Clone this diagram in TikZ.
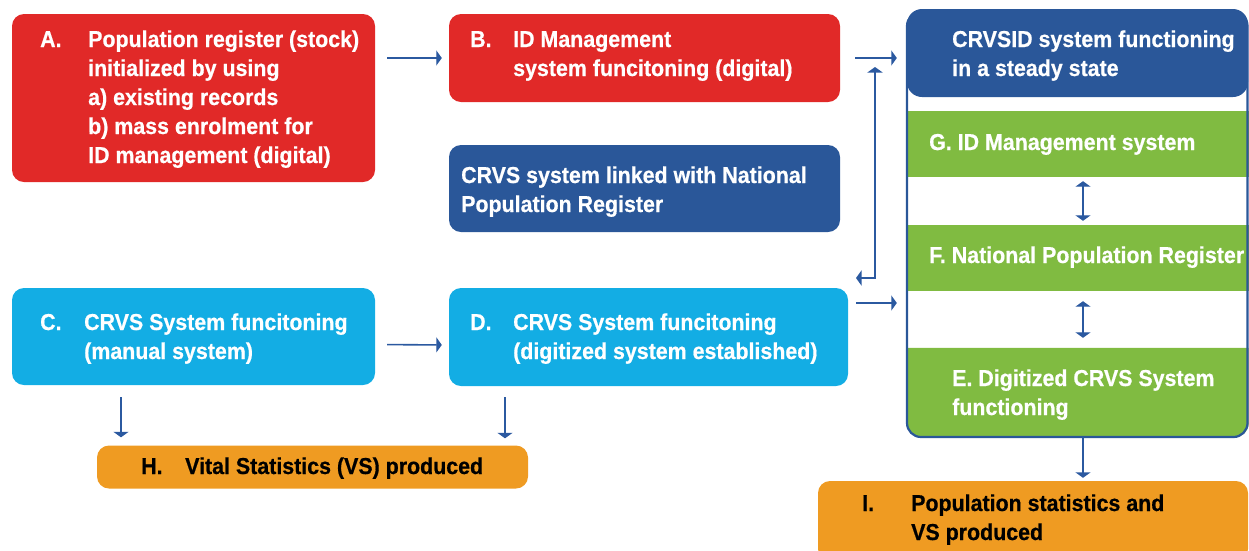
\documentclass[tikz,border=0pt]{standalone}
\usepackage{fontspec}
\setmainfont[FakeStretch=0.93,BoldFeatures={FakeBold=0.6}]{Liberation Sans}
\usetikzlibrary{arrows.meta}
\definecolor{cred}{HTML}{E12928}
\definecolor{cdblue}{HTML}{2A5799}
\definecolor{clblue}{HTML}{13ADE4}
\definecolor{cgreen}{HTML}{80BB41}
\definecolor{corange}{HTML}{EF9B22}
\definecolor{carrow}{HTML}{2B59A0}
\tikzset{
  box/.style={rectangle, rounded corners=12pt, inner sep=0pt, draw=none},
  band/.style={rectangle, inner sep=0pt, draw=none, fill=cgreen},
  txt/.style={inner sep=0pt, anchor=base west, text=white,
    font=\fontsize{23}{29}\selectfont\bfseries},
  dtxt/.style={txt, text=black},
  arr/.style={carrow, line width=1.6pt, -{Triangle[width=15pt,length=5.5pt]}},
  darr/.style={carrow, line width=1.6pt, {Triangle[width=15pt,length=5.5pt]}-{Triangle[width=15pt,length=5.5pt]}}
}
\begin{document}
\begin{tikzpicture}[x=1pt,y=-1pt]
\useasboundingbox (0,0) rectangle (1249,550);

% left and middle boxes
\node[box, fill=cred, minimum width=363pt, minimum height=168pt] (A) at (193.5,98) {};
\node[box, fill=cred, minimum width=391pt, minimum height=88pt] (B) at (644.5,58) {};
\node[box, fill=cdblue, minimum width=391pt, minimum height=87pt] (L) at (644.5,188.5) {};
\node[box, fill=clblue, minimum width=363pt, minimum height=97pt] (C) at (193.5,336.5) {};
\node[box, fill=clblue, minimum width=399pt, minimum height=98pt] (D) at (648.5,337) {};
\node[box, fill=corange, minimum width=431pt, minimum height=43pt] (H) at (312.5,467) {};
\node[box, fill=corange, minimum width=430pt, minimum height=80pt] (I) at (1033,521) {};

% right column: steady state container
\node[band, minimum width=341pt, minimum height=66pt] (G) at (1078,144) {};
\node[band, minimum width=341pt, minimum height=66pt] (F) at (1078,258) {};
\node[rectangle, inner sep=0pt, minimum width=341pt, minimum height=89pt] (E) at (1078,392.5) {};
\fill[cgreen] (E.north west) [rounded corners=14pt] -- (E.south west) -- (E.south east) [sharp corners] -- (E.north east) -- cycle;
\draw[cdblue, line width=2.2pt, rounded corners=14pt] (907,12) rectangle (1247.5,437);
\node[box, rounded corners=15pt, fill=cdblue, minimum width=341pt, minimum height=88pt] (S) at (1077.5,53) {};

% texts
\node[txt] (tA0) at (40,47) {A.};
\node[txt] (tA1) at (88,47) {Population register (stock)};
\node[txt] (tA2) at (88,76) {initialized by using};
\node[txt] (tA3) at (88,105) {a) existing records};
\node[txt] (tA4) at (88,134) {b) mass enrolment for};
\node[txt] (tA5) at (88,163) {ID management (digital)};

\node[txt] (tB0) at (470,47) {B.};
\node[txt] (tB1) at (513,47) {ID Management};
\node[txt] (tB2) at (513,76) {system funcitoning (digital)};

\node[txt] (tL1) at (461,183) {CRVS system linked with National};
\node[txt] (tL2) at (461,212) {Population Register};

\node[txt] (tC0) at (40,330) {C.};
\node[txt] (tC1) at (84,330) {CRVS System funcitoning};
\node[txt] (tC2) at (84,359) {(manual system)};

\node[txt] (tD0) at (470,330) {D.};
\node[txt] (tD1) at (513,330) {CRVS System funcitoning};
\node[txt] (tD2) at (513,359) {(digitized system established)};

\node[dtxt] (tH0) at (141,474) {H.};
\node[dtxt] (tH1) at (185,474) {Vital Statistics (VS) produced};

\node[txt] (tS1) at (952,47) {CRVSID system functioning};
\node[txt] (tS2) at (952,76) {in a steady state};
\node[txt] (tG) at (929,150) {G. ID Management system};
\node[txt] (tF) at (929,263) {F. National Population Register};
\node[txt] (tE1) at (952,386) {E. Digitized CRVS System};
\node[txt] (tE2) at (952,415) {functioning};

\node[dtxt] (tI0) at (862,511) {I.};
\node[dtxt] (tI1) at (911,511) {Population statistics and};
\node[dtxt] (tI2) at (911,540) {VS produced};

% connectors
\draw[arr, shorten <=12pt, shorten >=7pt] (A.east |- B.west) -- (B.west);
\draw[arr, shorten <=15pt, shorten >=10pt] (B.east) -- (B.east -| S.west);
\draw[arr, shorten <=12pt, shorten >=7pt] ([yshift=-8pt]C.east) -- ([yshift=-8pt]D.west);
\draw[arr, shorten <=8pt, shorten >=10pt] ([yshift=34pt]D.east) -- ([yshift=34pt]D.east -| S.west);
\coordinate (lkL) at (856,278);
\coordinate (lkT) at (875,67);
\draw[darr] (lkL) -- (lkT |- lkL) -- (lkT);
\draw[arr, shorten <=12pt, shorten >=8pt] (C.south -| tH0.west) ++(-20,0) coordinate (c1) (c1) -- (c1 |- H.north);
\draw[arr, shorten <=11pt, shorten >=7pt] (505,386) coordinate (d1) -- (d1 |- H.north);
% links inside the column, slightly right of centre
\coordinate (mx) at (1083,0);
\draw[darr, shorten <=4pt, shorten >=4pt] (G.south -| mx) -- (F.north -| mx);
\draw[darr, shorten <=10pt, shorten >=10pt] (F.south -| mx) -- (E.north -| mx);
\draw[arr, shorten >=3pt] (E.south -| mx) -- (I.north -| mx);
\end{tikzpicture}
\end{document}
